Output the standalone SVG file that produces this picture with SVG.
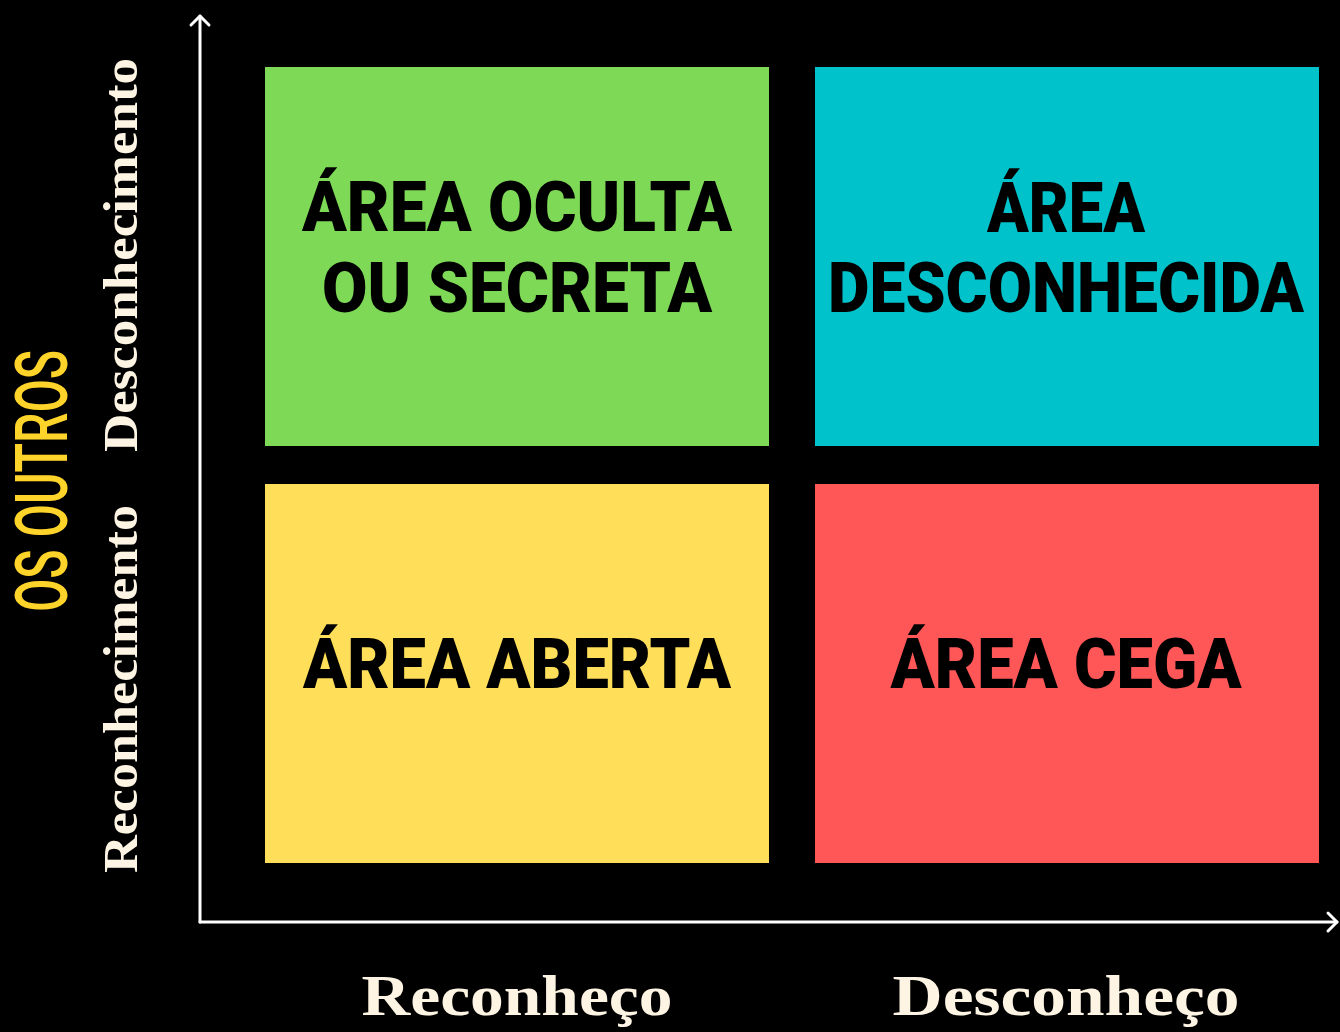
<svg xmlns="http://www.w3.org/2000/svg" width="1340" height="1032" viewBox="0 0 1340 1032">
<style>
.box-label{font-family:Roboto,"Liberation Sans",sans-serif;font-weight:900;font-size:70px;fill:#000;text-anchor:middle}
.serif{font-family:"Liberation Serif","DejaVu Serif",serif;font-weight:bold;fill:#fdf4e3}
.axis{stroke:#fff;stroke-width:3;fill:none;stroke-linecap:round;stroke-linejoin:round}
</style>
<rect x="0" y="0" width="1340" height="1032" fill="#000"/>
<g id="connectors">
<path class="axis" d="M200,922 L200,16"/>
<path class="axis" d="M191,25 L200,16 L209,25"/>
<path class="axis" d="M200,922 L1337,922"/>
<path class="axis" d="M1328,913 L1337,922 L1328,931"/>
</g>
<g id="node-oculta">
<rect x="265" y="67" width="504" height="379" fill="#7ed957"/>
<text class="box-label" x="517" y="231" textLength="430" lengthAdjust="spacingAndGlyphs">ÁREA OCULTA</text>
<text class="box-label" x="517" y="312" textLength="390" lengthAdjust="spacingAndGlyphs">OU SECRETA</text>
</g>
<g id="node-desconhecida">
<rect x="815" y="67" width="504" height="379" fill="#00c2cb"/>
<text class="box-label" x="1066" y="232" textLength="158" lengthAdjust="spacingAndGlyphs">ÁREA</text>
<text class="box-label" x="1066" y="312" textLength="476" lengthAdjust="spacingAndGlyphs">DESCONHECIDA</text>
</g>
<g id="node-aberta">
<rect x="265" y="484" width="504" height="379" fill="#ffde59"/>
<text class="box-label" x="517" y="688" textLength="428" lengthAdjust="spacingAndGlyphs">ÁREA ABERTA</text>
</g>
<g id="node-cega">
<rect x="815" y="484" width="504" height="379" fill="#ff5757"/>
<text class="box-label" x="1066" y="688" textLength="351" lengthAdjust="spacingAndGlyphs">ÁREA CEGA</text>
</g>
<g id="labels">
<text transform="translate(67,481) rotate(-90)" text-anchor="middle" font-family="Roboto,'Liberation Sans',sans-serif" font-weight="500" font-size="72" fill="#ffd42a" textLength="262" lengthAdjust="spacingAndGlyphs">OS OUTROS</text>
<text class="serif" transform="translate(137,255) rotate(-90)" text-anchor="middle" font-size="48" textLength="394" lengthAdjust="spacingAndGlyphs">Desconhecimento</text>
<text class="serif" transform="translate(137,689) rotate(-90)" text-anchor="middle" font-size="48" textLength="368" lengthAdjust="spacingAndGlyphs">Reconhecimento</text>
<text class="serif" x="517" y="1015" text-anchor="middle" font-size="56" textLength="311" lengthAdjust="spacingAndGlyphs">Reconheço</text>
<text class="serif" x="1066" y="1015" text-anchor="middle" font-size="56" textLength="347" lengthAdjust="spacingAndGlyphs">Desconheço</text>
</g>
</svg>
